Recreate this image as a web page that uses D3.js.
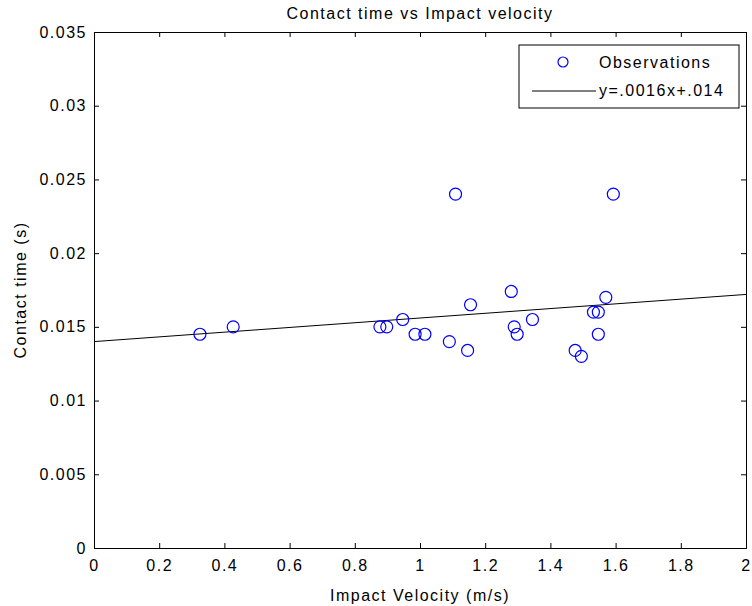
<!DOCTYPE html>
<html>
<head>
<meta charset="utf-8">
<script src="https://cdn.jsdelivr.net/npm/d3@7"></script>
<style>
  body { margin: 0; background: #fff; }
  text { font-family: "Liberation Sans", Arial, sans-serif; fill: #000; }
</style>
</head>
<body>
<div id="chart"></div>
<script>
// observed impact velocity (m/s) and contact time (s)
var velocity = [0.325, 0.427, 0.877, 0.898, 0.947, 0.985, 1.015, 1.090, 1.109, 1.146,
                1.155, 1.280, 1.289, 1.298, 1.345, 1.476, 1.495, 1.532, 1.547, 1.547,
                1.570, 1.593];
var contactTime = [0.0145, 0.015, 0.015, 0.015, 0.0155, 0.0145, 0.0145, 0.014, 0.024, 0.0134,
                   0.0165, 0.0174, 0.015, 0.0145, 0.0155, 0.0134, 0.013, 0.016, 0.016, 0.0145,
                   0.017, 0.024];
var fitSlope = 0.0016;
var fitIntercept = 0.014;
var xTicks = [0, 0.2, 0.4, 0.6, 0.8, 1, 1.2, 1.4, 1.6, 1.8, 2];
var yTicks = [0, 0.005, 0.01, 0.015, 0.02, 0.025, 0.03, 0.035];

var W = 752, H = 606;
var mLeft = 94, mRight = 746, mTop = 32, mBottom = 548; // plot box in pixels

var svg = d3.select("#chart").append("svg")
    .attr("width", W)
    .attr("height", H);

var x = d3.scaleLinear().domain([0, 2]).range([mLeft, mRight]);
var y = d3.scaleLinear().domain([0, 0.035]).range([mBottom, mTop]);

var fmtY = function(d) { return d === 0 ? "0" : String(d); };

// axes, ticks pointing inward like matlab
svg.append("g")
    .attr("transform", "translate(0," + mBottom + ")")
    .call(d3.axisBottom(x).tickValues(xTicks).tickSize(-5).tickPadding(12).tickFormat(d3.format("")));
svg.append("g")
    .attr("transform", "translate(0," + mTop + ")")
    .call(d3.axisTop(x).tickValues(xTicks).tickSize(-5).tickFormat(""));
svg.append("g")
    .attr("transform", "translate(" + mLeft + ",0)")
    .call(d3.axisLeft(y).tickValues(yTicks).tickSize(-5).tickPadding(7).tickFormat(fmtY));
svg.append("g")
    .attr("transform", "translate(" + mRight + ",0)")
    .call(d3.axisRight(y).tickValues(yTicks).tickSize(-5).tickFormat(""));

svg.selectAll(".domain").attr("stroke", "#000");
svg.selectAll(".tick line").attr("stroke", "#000");
svg.selectAll(".tick text")
    .style("font-size", "16px")
    .style("letter-spacing", "1.5px")
    .attr("fill", "#000");

// fitted line
var line = d3.line()
    .x(function(d) { return x(d); })
    .y(function(d) { return y(fitSlope * d + fitIntercept); });
svg.append("path")
    .datum([0, 2])
    .attr("d", line)
    .attr("fill", "none")
    .attr("stroke", "#000")
    .attr("stroke-width", 1);

// observations
svg.selectAll("circle.obs")
    .data(velocity)
    .enter()
    .append("circle")
    .attr("class", "obs")
    .attr("cx", function(d) { return x(d); })
    .attr("cy", function(d, i) { return y(contactTime[i]); })
    .attr("r", 6)
    .attr("fill", "none")
    .attr("stroke", "#0000ff")
    .attr("stroke-width", 1.2);

// titles
svg.append("text")
    .attr("x", (mLeft + mRight) / 2)
    .attr("y", 19)
    .attr("text-anchor", "middle")
    .style("font-size", "16px")
    .style("letter-spacing", "1.5px")
    .text("Contact time vs Impact velocity");
svg.append("text")
    .attr("x", (mLeft + mRight) / 2)
    .attr("y", 601)
    .attr("text-anchor", "middle")
    .style("font-size", "16px")
    .style("letter-spacing", "1.5px")
    .text("Impact Velocity (m/s)");
svg.append("text")
    .attr("transform", "translate(26," + ((mTop + mBottom) / 2) + ") rotate(-90)")
    .attr("text-anchor", "middle")
    .style("font-size", "16px")
    .style("letter-spacing", "1.5px")
    .text("Contact time (s)");

// legend
var lg = svg.append("g").attr("transform", "translate(519,45)");
lg.append("rect")
    .attr("width", 220)
    .attr("height", 63)
    .attr("fill", "#fff")
    .attr("stroke", "#000");
lg.append("circle")
    .attr("cx", 44).attr("cy", 17).attr("r", 5)
    .attr("fill", "none").attr("stroke", "#0000ff").attr("stroke-width", 1.2);
lg.append("text")
    .attr("x", 80).attr("y", 23)
    .style("font-size", "16px").style("letter-spacing", "1.5px")
    .text("Observations");
lg.append("line")
    .attr("x1", 13).attr("x2", 77).attr("y1", 46).attr("y2", 46)
    .attr("stroke", "#000");
lg.append("text")
    .attr("x", 80).attr("y", 51)
    .style("font-size", "16px").style("letter-spacing", "1.5px")
    .text("y=.0016x+.014");
</script>
</body>
</html>
